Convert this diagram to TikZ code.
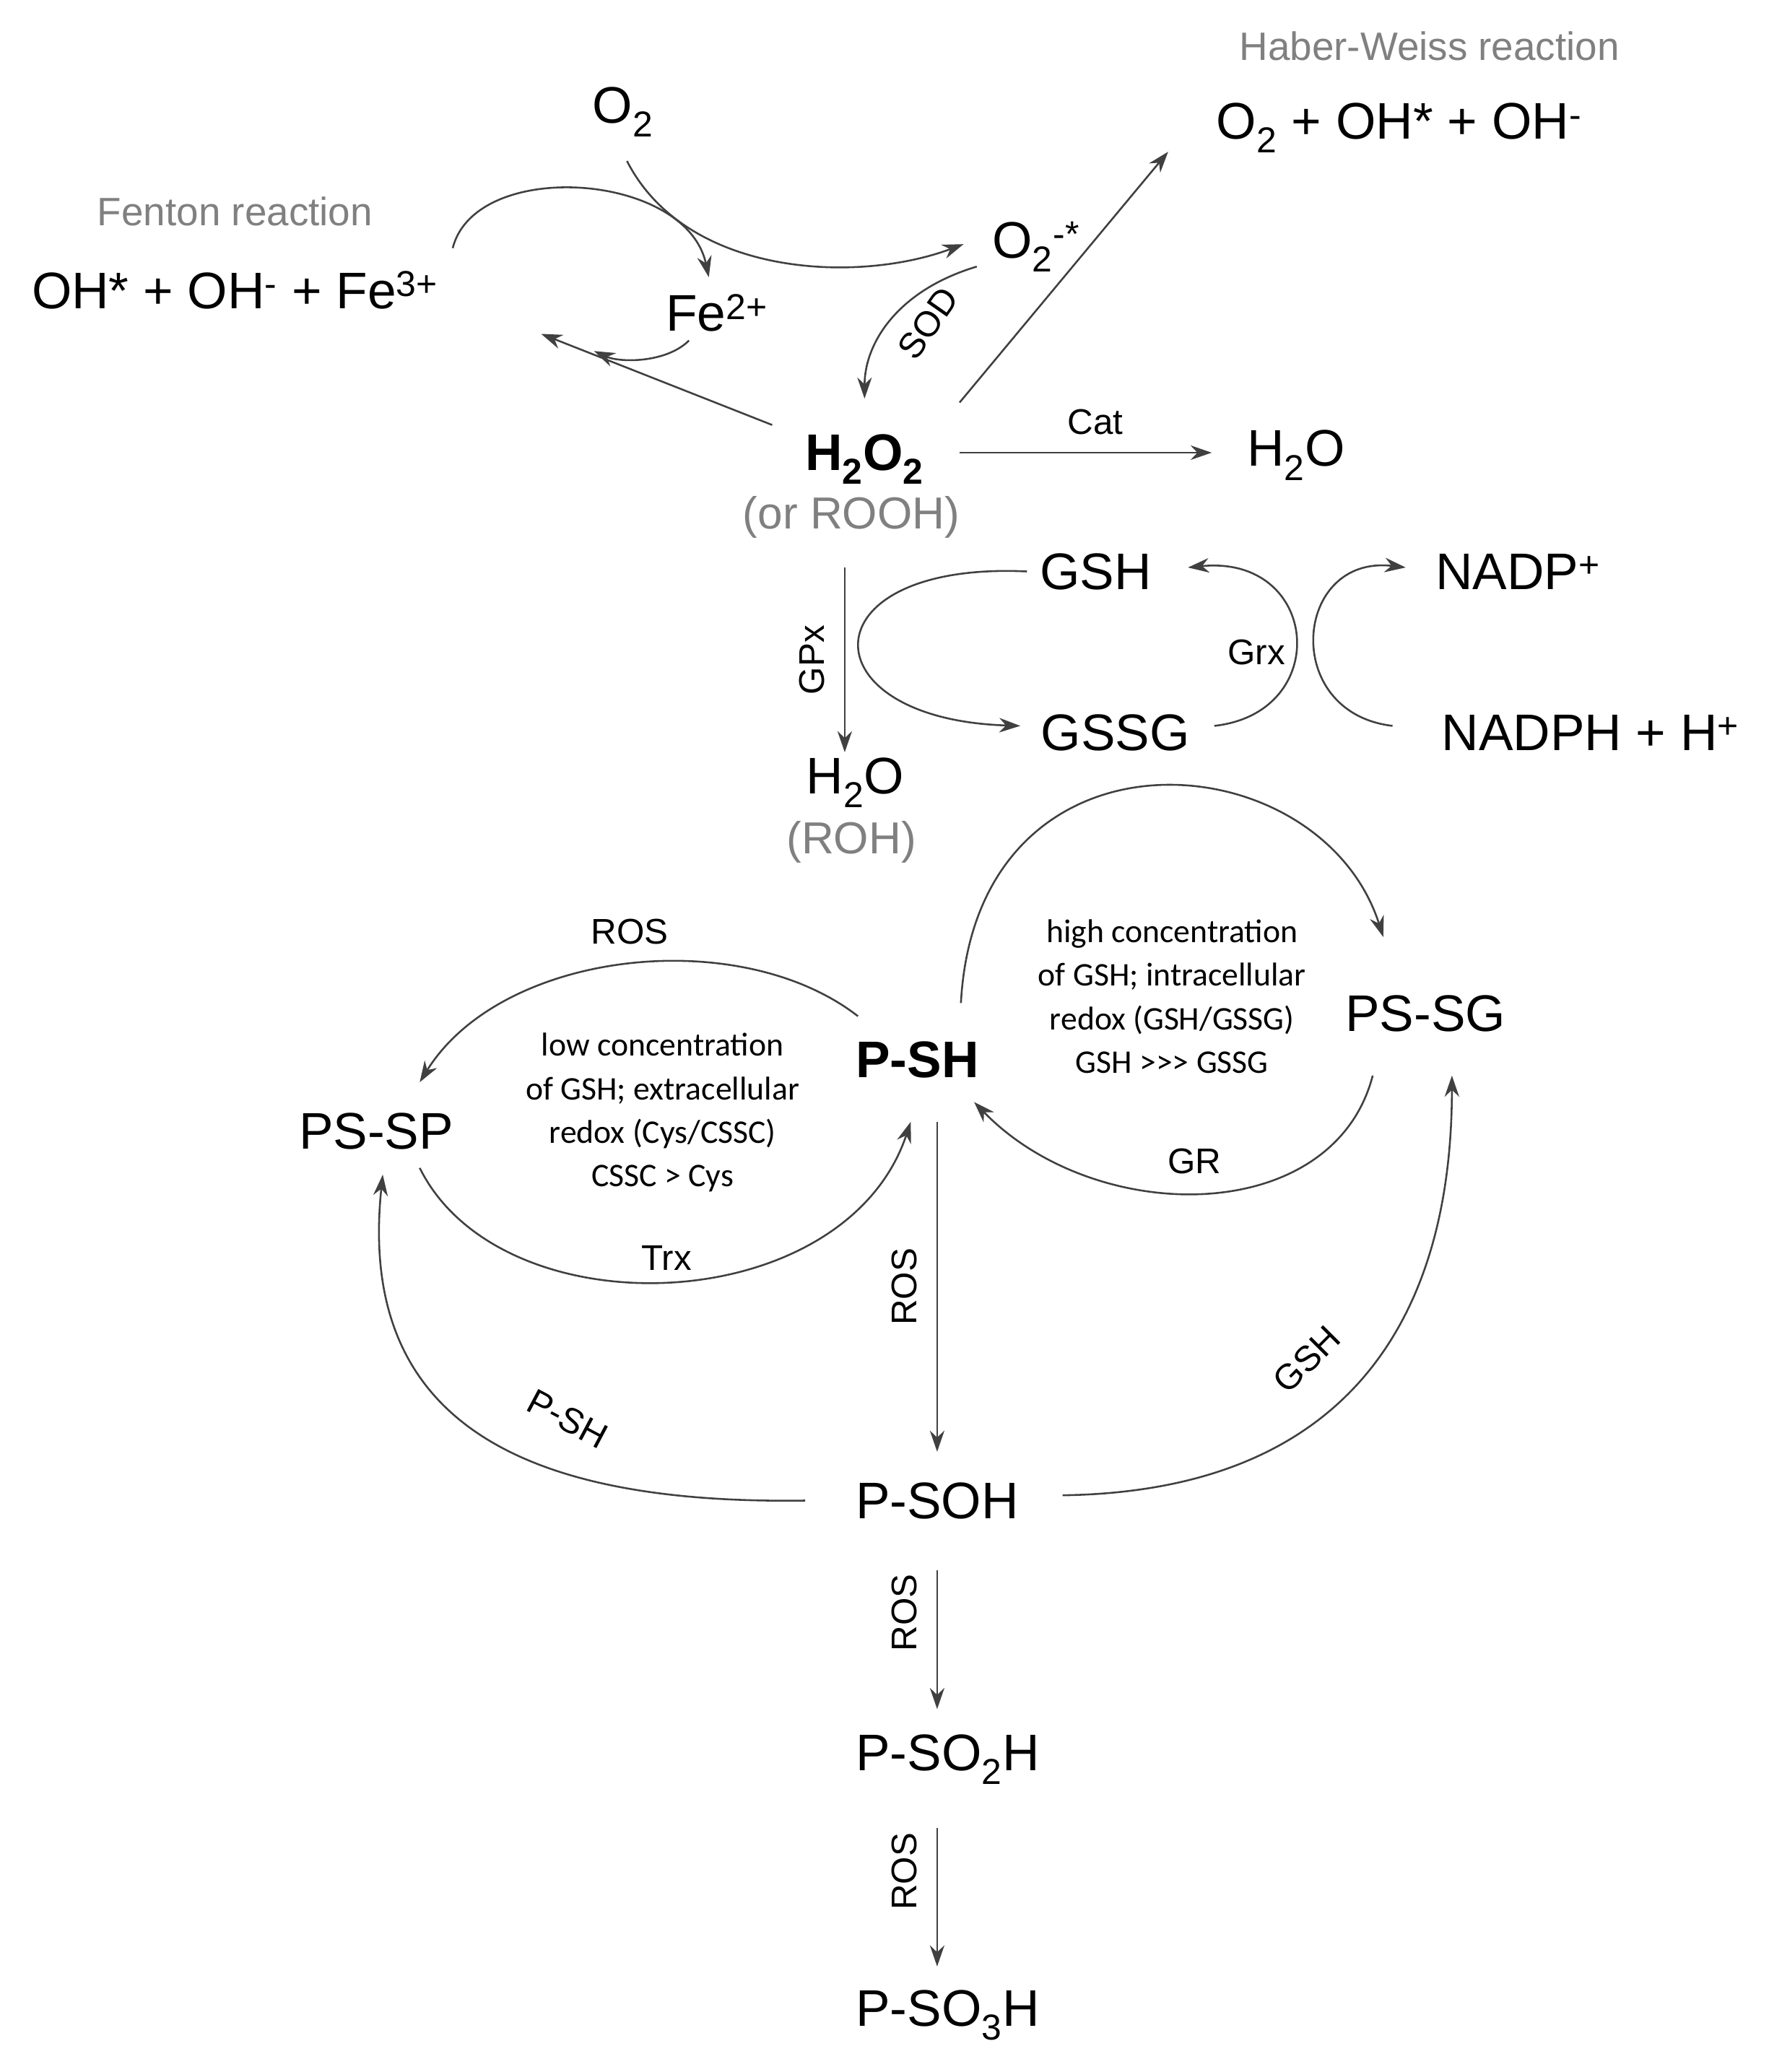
\documentclass[tikz,border=0pt]{standalone}
\usepackage{fontspec}
\setmainfont{Liberation Sans}
\newfontfamily\narrowf{Carlito}
\usetikzlibrary{arrows.meta}
\definecolor{ln}{gray}{0.25}
\definecolor{gt}{gray}{0.5}
\newcommand{\sbx}[1]{\textsubscript{#1}}
\newcommand{\spx}[1]{\textsuperscript{#1}}
\begin{document}
\begin{tikzpicture}[x=1pt,y=-1pt,
  big/.style={font=\fontsize{39}{40}\selectfont,inner sep=0pt},
  grey/.style={font=\fontsize{30}{32}\selectfont,text=gt,inner sep=0pt},
  lab/.style={font=\fontsize{27}{29}\selectfont,inner sep=0pt},
  note/.style={font=\narrowf\fontsize{25}{33}\selectfont,align=center,inner sep=0pt},
  ar/.style={draw=ln,line width=1.4pt,-{Stealth[length=16pt,width=11pt]}}]
\useasboundingbox[fill=white] (0,0) rectangle (1350,1570);
\node[grey] (hw) at (1083,35) {Haber-Weiss reaction};
\node[big] (hwp) at (1060,97) {O\sbx{2} + OH* + OH\spx{-}};
\node[big] (o2) at (472,85) {O\sbx{2}};
\node[grey] (fr) at (178,160) {Fenton reaction};
\node[big] (fp) at (178,220) {OH* + OH\spx{-} + Fe\spx{3+}};
\node[big] (fe) at (543,237) {Fe\spx{2+}};
\node[big] (sup) at (785,187) {O\sbx{2}\spx{-*}};
\node[big,font=\bfseries\fontsize{39}{40}\selectfont] (h2o2) at (655,348) {H\sbx{2}O\sbx{2}};
\node[grey,font=\fontsize{34}{36}\selectfont] (rooh) at (645,392) {(or ROOH)};
\node[big] (h2o) at (982,345) {H\sbx{2}O};
\node[lab] (cat) at (830,320) {Cat};
\node[big] (gsh) at (830,433) {GSH};
\node[big] (nadp) at (1150,433) {NADP\spx{+}};
\node[lab] (grx) at (952,494) {Grx};
\node[big] (gssg) at (845,555) {GSSG};
\node[big] (nadph) at (1205,555) {NADPH + H\spx{+}};
\node[lab,rotate=90] (gpx) at (615,500) {GPx};
\node[big] (h2ob) at (648,593) {H\sbx{2}O};
\node[grey,font=\fontsize{34}{36}\selectfont] (roh) at (645,638) {(ROH)};
\node[lab] (ros1) at (477,706) {ROS};
\node[big,font=\bfseries\fontsize{39}{40}\selectfont] (psh) at (695,803) {P-SH};
\node[big] (pssp) at (285,857) {PS-SP};
\node[big] (pssg) at (1080,768) {PS-SG};
\node[note] (low) at (502,843) {low concentration\\of GSH; extracellular\\redox (Cys/CSSC)\\CSSC > Cys};
\node[note] (high) at (888,755) {high concentration\\of GSH; intracellular\\redox (GSH/GSSG)\\GSH >>> GSSG};
\node[lab] (gr) at (905,880) {GR};
\node[lab] (trx) at (505,953) {Trx};
\node[lab,rotate=90] (ros2) at (685,975) {ROS};
\node[lab,rotate=-28] (pshl) at (430,1075) {P-SH};
\node[lab,rotate=45] (gshl) at (990,1030) {GSH};
\node[big] (psoh) at (710,1137) {P-SOH};
\node[lab,rotate=90] (ros3) at (685,1222) {ROS};
\node[big] (pso2h) at (718,1333) {P-SO\sbx{2}H};
\node[lab,rotate=90] (ros4) at (685,1418) {ROS};
\node[big] (pso3h) at (718,1527) {P-SO\sbx{3}H};
\node[lab,rotate=55] (sod) at (703,245) {SOD};
% arrows
\draw[ar] (475,122) .. controls (520,210) and (650,215) .. (730,185);
\draw[ar] (343,188) .. controls (360,120) and (520,130) .. (537,210);
\draw[ar] (522,258) .. controls (505,275) and (470,275) .. (450,266);
\draw[ar] (585,322) -- (410,253);
\draw[ar] (740,202) .. controls (680,220) and (655,260) .. (655,302);
\draw[ar] (727,305) -- (885,115);
\draw[ar] (727,343) -- (918,343);
\draw[ar] (640,430) -- (640,570);
\draw[ar] (778,433) .. controls (610,425) and (610,545) .. (773,550);
\draw[ar] (920,550) .. controls (1010,540) and (1000,420) .. (900,430);
\draw[ar] (1055,550) .. controls (970,540) and (980,420) .. (1065,430);
\draw[ar] (728,760) .. controls (740,540) and (1000,560) .. (1048,710);
\draw[ar] (1040,815) .. controls (1010,930) and (830,930) .. (738,835);
\draw[ar] (650,770) .. controls (560,700) and (380,720) .. (318,820);
\draw[ar] (318,885) .. controls (380,1010) and (640,1000) .. (690,850);
\draw[ar] (710,850) -- (710,1100);
\draw[ar] (610,1137) .. controls (400,1140) and (270,1080) .. (290,890);
\draw[ar] (805,1133) .. controls (1020,1130) and (1100,1000) .. (1100,815);
\draw[ar] (710,1190) -- (710,1295);
\draw[ar] (710,1385) -- (710,1490);
\end{tikzpicture}
\end{document}
